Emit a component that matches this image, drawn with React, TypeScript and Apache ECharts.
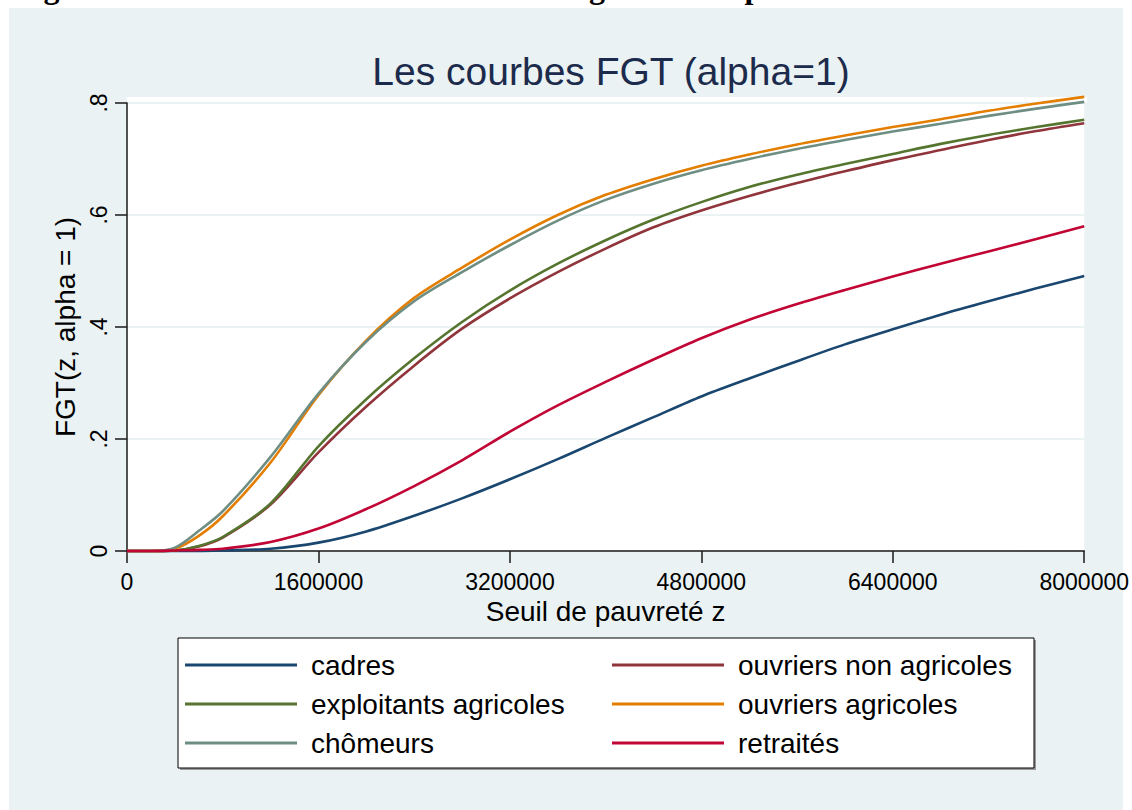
import React, { useEffect, useRef } from "react";
import * as echarts from "echarts";

// Poverty line z (x values)
const zValues = [
  0, 200000, 400000, 600000, 800000, 1200000, 1600000, 2000000, 2400000, 2800000,
  3200000, 3600000, 4000000, 4400000, 4800000, 5200000, 5600000, 6000000, 6400000,
  6800000, 7200000, 7600000, 8000000,
];

// FGT(z, alpha = 1) per socio-professional category
const cadres = [
  0, 0, 0, 0, 0.001, 0.004, 0.015, 0.035, 0.063, 0.094, 0.128, 0.164, 0.202, 0.239,
  0.276, 0.308, 0.339, 0.369, 0.396, 0.422, 0.446, 0.469, 0.491,
];
const ouvriersNonAgricoles = [
  0, 0, 0.001, 0.008, 0.024, 0.083, 0.176, 0.258, 0.331, 0.397, 0.451, 0.498, 0.54,
  0.578, 0.608, 0.634, 0.657, 0.678, 0.698, 0.716, 0.734, 0.75, 0.764,
];
const exploitantsAgricoles = [
  0, 0, 0.001, 0.009, 0.025, 0.085, 0.187, 0.271, 0.344, 0.409, 0.465, 0.513, 0.555,
  0.592, 0.623, 0.65, 0.672, 0.691, 0.709, 0.727, 0.743, 0.757, 0.77,
];
const ouvriersAgricoles = [
  0, 0, 0.004, 0.027, 0.062, 0.158, 0.278, 0.376, 0.452, 0.506, 0.556, 0.6, 0.636,
  0.664, 0.688, 0.708, 0.726, 0.742, 0.757, 0.771, 0.786, 0.799, 0.811,
];
const chomeurs = [
  0, 0, 0.006, 0.036, 0.071, 0.168, 0.281, 0.374, 0.446, 0.498, 0.546, 0.59, 0.627,
  0.656, 0.68, 0.7, 0.718, 0.734, 0.749, 0.763, 0.777, 0.79, 0.802,
];
const retraites = [
  0, 0, 0.001, 0.002, 0.004, 0.016, 0.04, 0.075, 0.116, 0.162, 0.213, 0.26, 0.302,
  0.342, 0.38, 0.413, 0.441, 0.466, 0.49, 0.513, 0.535, 0.557, 0.58,
];

// Stata drawing / legend order (legend filled row-wise, 2 columns)
const seriesNames = [
  "cadres",
  "ouvriers non agricoles",
  "exploitants agricoles",
  "ouvriers agricoles",
  "chômeurs",
  "retraités",
];
const seriesValues = [
  cadres,
  ouvriersNonAgricoles,
  exploitantsAgricoles,
  ouvriersAgricoles,
  chomeurs,
  retraites,
];
const seriesColors = ["#1a476f", "#90353b", "#55752f", "#e37e00", "#6e8e84", "#c10534"];

const xTickStep = 1600000;
const xMax = 8000000;
const yTickStep = 0.2;
const yMax = 0.8;

const chartTitle = "Les courbes FGT (alpha=1)";
const xTitle = "Seuil de pauvreté z";
const yTitle = "FGT(z, alpha = 1)";
const captionAbove = "Figure 4.4 : Les courbes FGT selon la catégorie socio-professionnelle";

const FONT = "'Liberation Sans', Arial, Helvetica, sans-serif";

export default function App() {
  const ref = useRef<HTMLDivElement>(null);

  useEffect(() => {
    if (!ref.current) return;
    const chart = echarts.init(ref.current, undefined, { renderer: "svg" });

    const series = seriesNames.map((name, i) => ({
      name,
      type: "line",
      data: zValues.map((z, k) => [z, seriesValues[i][k]]),
      symbol: "none",
      smooth: 0.3,
      clip: false,
      lineStyle: { color: seriesColors[i], width: 2.6 },
      itemStyle: { color: seriesColors[i] },
      z: 3 + i,
    }));

    const leftNames = seriesNames.filter((_, i) => i % 2 === 0);
    const rightNames = seriesNames.filter((_, i) => i % 2 === 1);

    const legendCommon = {
      orient: "vertical",
      icon: "rect",
      itemWidth: 112,
      itemHeight: 3,
      itemGap: 11,
      selectedMode: false,
      textStyle: {
        fontFamily: FONT,
        fontSize: 28,
        color: "#000",
        lineHeight: 28,
        padding: [0, 0, 0, 9],
      },
    };

    chart.setOption({
      animation: false,
      backgroundColor: "transparent",
      title: {
        text: chartTitle,
        left: 606,
        top: 47,
        textAlign: "center",
        textStyle: {
          fontFamily: FONT,
          fontSize: 39,
          fontWeight: "normal",
          color: "#1c2b4b",
        },
      },
      grid: {
        left: 127,
        right: 45,
        top: 103,
        bottom: 259,
        show: true,
        backgroundColor: "#ffffff",
        borderWidth: 0,
      },
      xAxis: {
        type: "value",
        min: 0,
        max: xMax,
        interval: xTickStep,
        name: xTitle,
        nameLocation: "middle",
        nameGap: 37,
        nameTextStyle: { fontFamily: FONT, fontSize: 28, color: "#000" },
        axisLine: { show: true, onZero: false, lineStyle: { color: "#1a1a1a", width: 1.5 } },
        axisTick: { show: true, length: 12, lineStyle: { color: "#1a1a1a", width: 1.5 } },
        axisLabel: {
          fontFamily: FONT,
          fontSize: 23,
          color: "#000",
          margin: 19,
          formatter: (v: number) => String(v),
        },
        splitLine: { show: false },
      },
      yAxis: {
        type: "value",
        min: 0,
        max: yMax,
        interval: yTickStep,
        name: yTitle,
        nameLocation: "middle",
        nameRotate: 90,
        nameGap: 45,
        nameTextStyle: { fontFamily: FONT, fontSize: 28, color: "#000" },
        axisLine: { show: true, onZero: false, lineStyle: { color: "#1a1a1a", width: 1.5 } },
        axisTick: { show: true, length: 12, lineStyle: { color: "#1a1a1a", width: 1.5 } },
        axisLabel: {
          fontFamily: FONT,
          fontSize: 23,
          color: "#000",
          rotate: 90,
          margin: 17,
          formatter: (v: number) => (v === 0 ? "0" : v.toFixed(1).replace(/^0/, "")),
        },
        splitLine: { show: true, lineStyle: { color: "#eaf2f3", width: 2 } },
      },
      legend: [
        { ...legendCommon, data: leftNames, left: 180, top: 646 },
        { ...legendCommon, data: rightNames, left: 607, top: 646 },
      ],
      graphic: [
        {
          type: "rect",
          z: -100,
          silent: true,
          shape: { x: 9, y: 8, width: 1114, height: 810 },
          style: { fill: "#eaf2f3" },
        },
        {
          type: "rect",
          z: -50,
          silent: true,
          shape: { x: 127, y: 97, width: 960, height: 5.5 },
          style: { fill: "#ffffff" },
        },
        {
          type: "rect",
          z: -40,
          silent: true,
          shape: { x: 180, y: 640, width: 856, height: 130 },
          style: { fill: "#9a9a9a" },
        },
        {
          type: "rect",
          z: -30,
          silent: true,
          shape: { x: 178, y: 638, width: 856, height: 130 },
          style: { fill: "#ffffff", stroke: "#000", lineWidth: 1 },
        },
        {
          type: "text",
          silent: true,
          x: 15,
          y: 3,
          style: {
            text: captionAbove,
            fontFamily: "'Liberation Serif', 'Times New Roman', serif",
            fontWeight: "bold",
            fontSize: 32,
            fill: "#000",
            verticalAlign: "bottom",
          },
        },
      ],
      series,
    });

    return () => chart.dispose();
  }, []);

  return (
    <div
      ref={ref}
      style={{ position: "absolute", left: 0, top: 0, width: 1132, height: 810 }}
    />
  );
}
